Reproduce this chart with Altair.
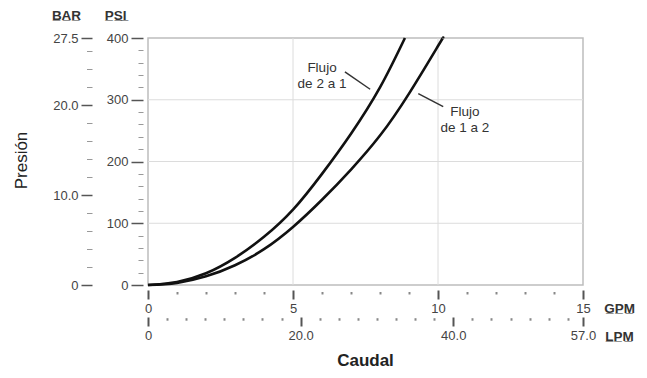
import altair as alt
import pandas as pd

# ---- data ----
series = ["Flujo de 2 a 1", "Flujo de 1 a 2"]
gpm_up = [0, 1, 2, 3, 4, 5, 6, 7, 8, 8.86]
psi_up = [0, 5, 19, 44, 78, 122, 180, 245, 320, 400]
gpm_dn = [0, 1, 2, 3, 4, 5, 6, 7, 8, 9, 10, 10.17]
psi_dn = [0, 3.5, 14, 32, 58, 94, 138, 187, 242, 310, 387, 400]

gpm_major = [0, 5, 10, 15]
gpm_minor = [1, 2, 3, 4, 6, 7, 8, 9, 11, 12, 13, 14]
lpm_major = [0, 20, 40, 57]
lpm_minor = [2.5, 5, 7.5, 10, 12.5, 15, 17.5, 22.5, 25, 27.5, 30, 32.5, 35, 37.5,
             42.5, 45, 47.5, 50, 52.5, 55]
psi_major = [0, 100, 200, 300, 400]
psi_minor = [20, 40, 60, 80, 120, 140, 160, 180, 220, 240, 260, 280, 320, 340, 360, 380]
bar_major = [0, 10, 20, 27.5]
bar_minor = [2, 4, 6, 8, 12, 14, 16, 18, 22, 24, 26]
grid_gpm = [5, 10]
grid_psi = [100, 200, 300]
lpm_range = [0, 57]
bar_range = [0, 27.5]

label_text = ["Flujo\nde 2 a 1", "Flujo\nde 1 a 2"]
label_gpm = [6.0, 10.93]
label_psi = [351, 280]
leader_gpm = [6.79, 9.32]
leader_psi = [345, 310]
leader_gpm2 = [7.66, 10.18]
leader_psi2 = [317, 289]

FONT = "Liberation Sans"

curve_df = pd.DataFrame({
    "gpm": gpm_up + gpm_dn,
    "psi": psi_up + psi_dn,
    "serie": [series[0]] * len(gpm_up) + [series[1]] * len(gpm_dn),
})
sec_df = pd.DataFrame({"lpm": lpm_range, "bar": bar_range})
label_df = pd.DataFrame({"gpm": label_gpm, "psi": label_psi, "text": label_text})
leader_df = pd.DataFrame({"gpm": leader_gpm, "psi": leader_psi,
                          "gpm2": leader_gpm2, "psi2": leader_psi2})

X_GPM = alt.Scale(domain=[0, 15], nice=False, zero=False)
Y_PSI = alt.Scale(domain=[0, 400], nice=False)
X_LPM = alt.Scale(domain=[0, 57], nice=False, zero=False)
Y_BAR = alt.Scale(domain=[0, 27.5], nice=False)


def axis(orient, values, offset, size, width, color, labels=True, **kw):
    return alt.Axis(orient=orient, values=values, offset=offset, tickSize=size,
                    tickWidth=width, tickColor=color, domain=False, grid=False,
                    labels=labels, labelFlush=False, labelOverlap=False,
                    labelFontSize=13, labelColor="#444", labelFont=FONT,
                    titleFont=FONT, **kw)


fmt1 = "datum.value == 0 ? '0' : format(datum.value, '.1f')"
header = dict(titleAngle=0, titleAlign="center", titleBaseline="middle",
              titleFontSize=13.5, titleFontWeight="bold", titleColor="#333")

ax_psi_major = axis("left", psi_major, 5, 12, 1.5, "#555", labelPadding=3,
                    title="P\u0332S\u0332I\u0332", titleX=-28, titleY=-23, **header)
ax_psi_minor = axis("left", psi_minor, 5, 5, 1, "#999", labels=False,
                    title="Presión", titleAngle=270, titleX=-122, titleY=122,
                    titleAlign="center", titleBaseline="middle",
                    titleFontSize=17, titleFontWeight="normal", titleColor="#222")
ax_bar_major = axis("left", bar_major, 56, 11, 1.5, "#555", labelPadding=3,
                    labelExpr=fmt1, title="B\u0332A\u0332R\u0332",
                    titleX=-26, titleY=-23, **header)
ax_bar_minor = axis("left", bar_minor, 56, 5.5, 1, "#999", labels=False, title="")

ax_gpm_major = axis("bottom", gpm_major, 5, 9, 2, "#555", labelPadding=3,
                    title="G\u0332P\u0332M\u0332", titleX=471, titleY=18, **header)
ax_gpm_minor = axis("bottom", gpm_minor, 6.5, 2.5, 2, "#888", labels=False,
                    title="Caudal", titleX=217, titleY=69, titleAngle=0,
                    titleAlign="center", titleBaseline="middle",
                    titleFontSize=17, titleFontWeight="bold", titleColor="#222")
ax_lpm_major = axis("bottom", lpm_major, 32, 9, 2, "#555", labelPadding=3,
                    labelExpr=fmt1, title="L\u0332P\u0332M\u0332",
                    titleX=471, titleY=19, **header)
ax_lpm_minor = axis("bottom", lpm_minor, 32.7, 2.5, 2, "#888", labels=False, title="")

grid_x = alt.Chart(pd.DataFrame({"v": grid_gpm})).mark_rule(
    color="#dcdcdc", strokeWidth=1).encode(x=alt.X("v:Q", scale=X_GPM, axis=None))
grid_y = alt.Chart(pd.DataFrame({"v": grid_psi})).mark_rule(
    color="#dcdcdc", strokeWidth=1).encode(y=alt.Y("v:Q", scale=Y_PSI, axis=None))

curves = alt.Chart(curve_df).mark_line(
    color="#111", strokeWidth=2.6, interpolate="natural").encode(
    x=alt.X("gpm:Q", scale=X_GPM, axis=ax_gpm_major),
    y=alt.Y("psi:Q", scale=Y_PSI, axis=ax_psi_major),
    detail="serie:N",
)
minor = alt.Chart(curve_df).mark_point(opacity=0).encode(
    x=alt.X("gpm:Q", scale=X_GPM, axis=ax_gpm_minor),
    y=alt.Y("psi:Q", scale=Y_PSI, axis=ax_psi_minor),
)
sec_major = alt.Chart(sec_df).mark_point(opacity=0).encode(
    x=alt.X("lpm:Q", scale=X_LPM, axis=ax_lpm_major),
    y=alt.Y("bar:Q", scale=Y_BAR, axis=ax_bar_major),
)
sec_minor = alt.Chart(sec_df).mark_point(opacity=0).encode(
    x=alt.X("lpm:Q", scale=X_LPM, axis=ax_lpm_minor),
    y=alt.Y("bar:Q", scale=Y_BAR, axis=ax_bar_minor),
)
texts = alt.Chart(label_df).mark_text(
    fontSize=13.5, color="#333", lineBreak="\n", lineHeight=16,
    align="center", baseline="middle", font=FONT).encode(
    x=alt.X("gpm:Q", scale=X_GPM, axis=None),
    y=alt.Y("psi:Q", scale=Y_PSI, axis=None),
    text="text:N",
)
leaders = alt.Chart(leader_df).mark_rule(color="#333", strokeWidth=1.5).encode(
    x=alt.X("gpm:Q", scale=X_GPM, axis=None),
    y=alt.Y("psi:Q", scale=Y_PSI, axis=None),
    x2="gpm2:Q",
    y2="psi2:Q",
)

chart = alt.layer(
    grid_x, grid_y, curves, minor, sec_major, sec_minor, texts, leaders
).resolve_scale(x="independent", y="independent").properties(
    width=435, height=247,
    padding={"left": 140, "top": 30, "right": 56, "bottom": 85},
    autosize=alt.AutoSizeParams(type="none"),
).configure_view(stroke="#bdbdbd", strokeWidth=1.5)

chart.save("out.html", embed_options={"renderer": "svg", "actions": False})
